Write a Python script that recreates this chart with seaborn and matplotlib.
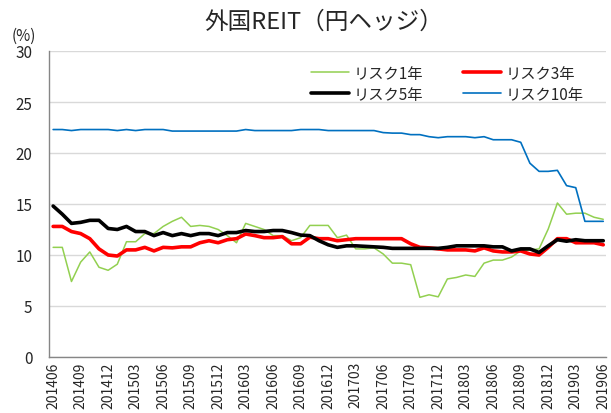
import matplotlib
matplotlib.use("Agg")
import matplotlib.pyplot as plt
import seaborn as sns
import pandas as pd
import numpy as np

months = [str(p).replace("-", "") for p in pd.period_range("2014-06", "2019-06", freq="M")]

risk1 = [10.75, 10.75, 7.4, 9.3, 10.3, 8.8, 8.5, 9.1, 11.3, 11.3,
         12.1, 12.1, 12.8, 13.3, 13.7, 12.8, 12.9, 12.8, 12.5, 11.9,
         11.2, 13.1, 12.8, 12.5, 11.9, 11.9, 11.4, 11.7, 12.9, 12.9,
         12.9, 11.7, 11.95, 10.6, 10.6, 10.7, 10.1, 9.2, 9.2, 9.05,
         5.85, 6.1, 5.9, 7.65, 7.8, 8.04, 7.9, 9.2, 9.5, 9.5,
         9.8, 10.4, 10.5, 10.6, 12.55, 15.1, 14.0, 14.1, 14.1, 13.7, 13.5]
risk3 = [12.8, 12.8, 12.3, 12.1, 11.6, 10.6, 10.0, 9.9, 10.5, 10.5,
         10.75, 10.4, 10.75, 10.7, 10.8, 10.8, 11.2, 11.4, 11.2, 11.5,
         11.6, 12.06, 11.9, 11.7, 11.7, 11.8, 11.1, 11.1, 11.75, 11.6,
         11.6, 11.4, 11.5, 11.6, 11.6, 11.6, 11.6, 11.6, 11.6, 11.1,
         10.75, 10.7, 10.6, 10.5, 10.5, 10.5, 10.4, 10.7, 10.4, 10.3,
         10.3, 10.4, 10.1, 10.0, 10.75, 11.6, 11.6, 11.2, 11.2, 11.2, 11.0]
risk5 = [14.8, 14.0, 13.1, 13.2, 13.4, 13.4, 12.6, 12.5, 12.8, 12.3,
         12.3, 11.9, 12.2, 11.9, 12.1, 11.9, 12.1, 12.1, 11.9, 12.2,
         12.2, 12.4, 12.3, 12.3, 12.4, 12.4, 12.2, 11.95, 11.9, 11.4,
         11.0, 10.75, 10.9, 10.9, 10.85, 10.8, 10.75, 10.65, 10.65, 10.65,
         10.65, 10.65, 10.65, 10.75, 10.9, 10.9, 10.9, 10.9, 10.8, 10.8,
         10.4, 10.6, 10.6, 10.25, 10.9, 11.5, 11.35, 11.5, 11.4, 11.4, 11.4]
risk10 = [22.3, 22.3, 22.2, 22.3, 22.3, 22.3, 22.3, 22.2, 22.3, 22.2,
          22.3, 22.3, 22.3, 22.15, 22.15, 22.15, 22.15, 22.15, 22.15, 22.15,
          22.15, 22.3, 22.2, 22.2, 22.2, 22.2, 22.2, 22.3, 22.3, 22.3,
          22.2, 22.2, 22.2, 22.2, 22.2, 22.2, 22.0, 21.95, 21.95, 21.8,
          21.8, 21.6, 21.5, 21.6, 21.6, 21.6, 21.5, 21.6, 21.3, 21.3,
          21.3, 21.05, 19.0, 18.2, 18.2, 18.3, 16.8, 16.6, 13.3, 13.3, 13.3]

series_names = ["リスク1年", "リスク3年", "リスク5年", "リスク10年"]
series_values = [risk1, risk3, risk5, risk10]
colors = ["#92D050", "#FF0000", "#000000", "#0070C0"]
widths = [1.1, 2.6, 2.6, 1.2]

sns.set_theme(style="white")
plt.rcParams["font.family"] = ["Noto Sans CJK JP", "DejaVu Sans"]

rows = []
for name, vals in zip(series_names, series_values):
    for i, (m, v) in enumerate(zip(months, vals)):
        rows.append({"idx": i, "month": m, "series": name, "value": v})
df = pd.DataFrame(rows)

fig = plt.figure(figsize=(6.11, 4.14), dpi=100)
ax = fig.add_axes([49 / 611, 1 - 358 / 414, (606 - 49) / 611, (358 - 52) / 414])

sns.lineplot(data=df, x="idx", y="value", hue="series", hue_order=series_names,
             palette=colors, ax=ax, legend=False)
for line, w in zip(ax.get_lines(), widths):
    line.set_linewidth(w)

ax.set_xlim(-0.45, 60.3)
ax.set_ylim(0, 30)
ax.set_yticks(np.arange(0, 31, 5))
ax.set_yticklabels([str(v) for v in range(0, 31, 5)], fontsize=11)
tick_idx = list(range(0, 61, 3))
ax.set_xticks(tick_idx)
ax.set_xticklabels([months[i] for i in tick_idx], rotation=90, fontsize=10)
ax.set_xlabel("")
ax.set_ylabel("")
ax.grid(axis="y", color="#D9D9D9", linewidth=1)
ax.set_axisbelow(True)
for s in ["top", "right"]:
    ax.spines[s].set_visible(False)
for s in ["left", "bottom"]:
    ax.spines[s].set_color("#868686")
    ax.spines[s].set_linewidth(1)
ax.tick_params(axis="y", length=4, color="#868686", direction="out", pad=8)
ax.tick_params(axis="x", length=0, pad=3)

fig.text(12 / 611, 1 - 36 / 414, "(%)", fontsize=11, ha="left", va="center")
fig.text(0.53, 1 - 22 / 414, "外国REIT（円ヘッジ）", fontsize=17, ha="center", va="center")

handles = [plt.Line2D([], [], color=c, lw=w) for c, w in zip(colors, widths)]
order = [0, 2, 1, 3]
ax.legend([handles[i] for i in order], [series_names[i] for i in order],
          ncol=2, loc="upper right", bbox_to_anchor=(0.985, 1.0), frameon=False,
          fontsize=11, handlelength=2.5, columnspacing=2.6, handletextpad=0.3,
          labelspacing=0.25)

fig.savefig("out.png", dpi=100)
